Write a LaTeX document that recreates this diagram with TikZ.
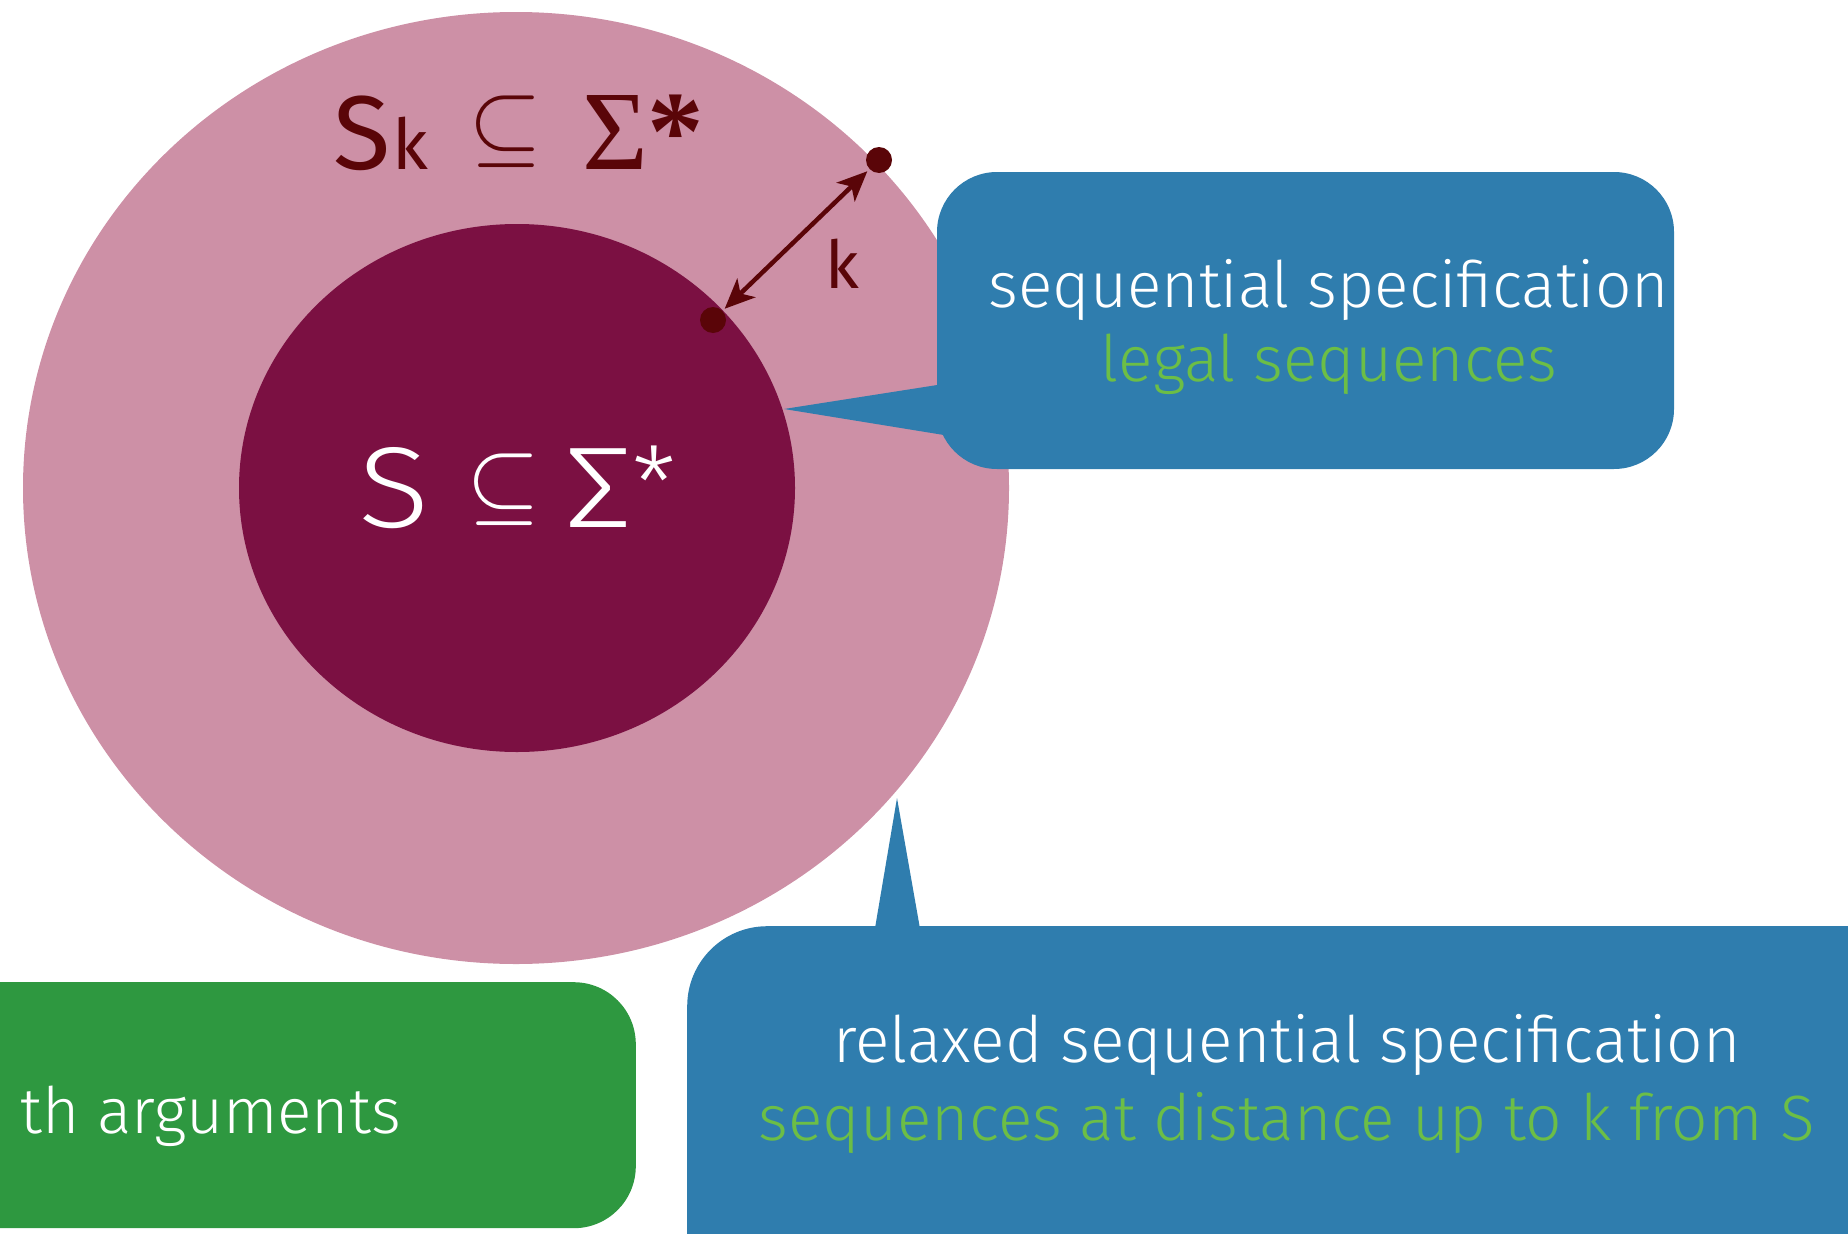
\documentclass[tikz,border=0pt]{standalone}
\usepackage{fontspec}
\setmainfont{Fira Sans}[UprightFont={* Light}]
\newfontfamily\rnd{Fira Sans}
\newfontfamily\ser{Liberation Serif}
\newfontfamily\mth{latinmodern-math.otf}
\usetikzlibrary{arrows.meta,shapes.geometric}
\definecolor{pinkout}{HTML}{CD90A6}
\definecolor{wine}{HTML}{7B1042}
\definecolor{maroondk}{HTML}{5A0508}
\definecolor{boxblue}{HTML}{2F7DAE}
\definecolor{boxgreen}{HTML}{2E9840}
\definecolor{txtgreen}{HTML}{6CBE46}
\tikzset{
  dotnode/.style={circle,fill=maroondk,minimum size=26pt,inner sep=0pt},
  boxtext/.style={inner sep=0pt,anchor=base,font=\fontsize{64}{74}\selectfont},
}
\begin{document}
\begin{tikzpicture}[x=1pt,y=-1pt]
\useasboundingbox (0,0) rectangle (1848,1234);
\clip (0,0) rectangle (1848,1234);
% sets
\node[ellipse,fill=pinkout,minimum width=986pt,minimum height=952pt,inner sep=0pt] (outer) at (516,488) {};
\node[ellipse,fill=wine,minimum width=556pt,minimum height=528pt,inner sep=0pt] (inner) at (517,488) {};
\node[inner sep=0pt,anchor=base west,text=maroondk] (sklab) at (333,169)
  {{\rnd\fontsize{105}{110}\selectfont S}\hspace{2pt}{\rnd\fontsize{70}{74}\selectfont k}\hspace{40pt}\raisebox{14pt}{\mth\fontsize{95}{100}\selectfont ⊆}\hspace{40pt}{\ser\fontsize{113}{120}\selectfont Σ}{\ser\bfseries\fontsize{113}{120}\selectfont *}};
\node[inner sep=0pt,anchor=base west,text=white] (slab) at (358,527)
  {\scalebox{1.15}[1]{\fontsize{115}{120}\selectfont S}\hspace{37pt}\raisebox{14pt}{\mth\fontsize{95}{100}\selectfont ⊆}\hspace{24pt}\scalebox{1.2}[1]{\fontsize{115}{120}\selectfont Σ}\raisebox{8pt}{\fontsize{100}{110}\selectfont *}};
% distance k
\node[dotnode] (dout) at (879,160) {};
\node[dotnode] (din) at (713,320) {};
\draw[maroondk,line width=4.5pt,{Stealth[length=30pt,width=26pt,inset=8pt]}-{Stealth[length=30pt,width=26pt,inset=8pt]},shorten <=3pt,shorten >=3pt] (din) -- (dout);
\node[text=maroondk,inner sep=0pt] (klab) at (842,264) {\rnd\fontsize{66}{70}\selectfont k};
% top bubble
\fill[boxblue] (784,409) -- (950,383) -- (950,436) -- cycle;
\node[fill=boxblue,rounded corners=60pt,minimum width=737pt,minimum height=297pt,inner sep=0pt] (spec) at (1305.5,320.5) {};
\node[boxtext,text=white] (spect1) at (1329,307) {sequential specification};
\node[boxtext,text=txtgreen] (spect2) at (1329,381) {legal sequences};
% bottom bubble
\fill[boxblue] (897,798) -- (873,940) -- (922,940) -- cycle;
\node[fill=boxblue,rounded corners=80pt,minimum width=1300pt,minimum height=500pt,inner sep=0pt,anchor=north west] (relax) at (687,926) {};
\node[boxtext,text=white] (relaxt1) at (1287,1062) {relaxed sequential specification};
\node[boxtext,text=txtgreen] (relaxt2) at (1287,1140) {sequences at distance up to k from S};
% green box
\node[fill=boxgreen,rounded corners=62pt,minimum width=800pt,minimum height=246pt,inner sep=0pt,anchor=north east] (proof) at (636,982) {};
\node[boxtext,anchor=base east,text=white] (prooft) at (401,1133) {th arguments};
\end{tikzpicture}
\end{document}
